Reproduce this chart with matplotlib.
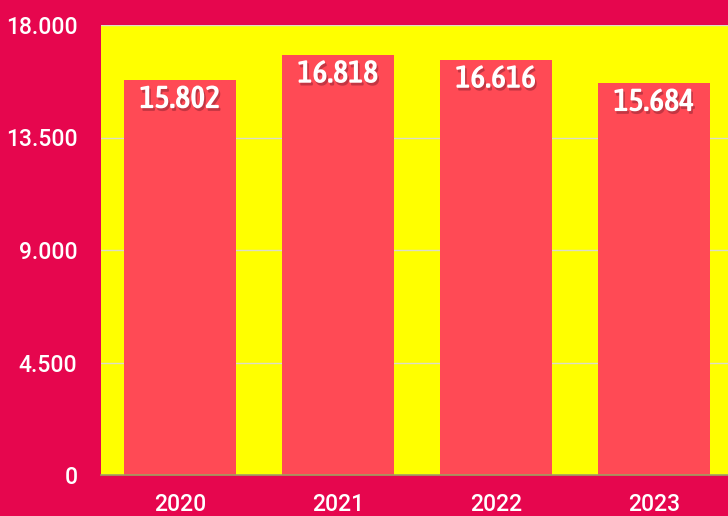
import matplotlib.pyplot as plt
import matplotlib.patheffects as pe
from matplotlib import font_manager

years = ["2020", "2021", "2022", "2023"]
values = [15802, 16818, 16616, 15684]
yticks = [0, 4500, 9000, 13500, 18000]


def fmt(v):
    # thousand separator with a dot
    return f"{v:,}".replace(",", ".")


# condensed bold face for the value labels
label_path = None
for pref in ["AsapCondensed-SemiBold.ttf", "AsapCondensed-Bold.ttf", "DejaVuSansCondensed-Bold.ttf"]:
    for f in font_manager.fontManager.ttflist:
        if f.fname.endswith(pref):
            label_path = f.fname
            break
    if label_path:
        break
if label_path:
    label_fp = font_manager.FontProperties(fname=label_path)
else:
    label_fp = font_manager.FontProperties(family="DejaVu Sans", weight="bold")
label_fp.set_size(23)

bg = "#E6064E"
fig = plt.figure(figsize=(7.28, 5.16), dpi=100, facecolor=bg)
ax = fig.add_axes([101 / 728, 41 / 516, 632 / 728, 450 / 516])
ax.set_facecolor("#FFFF00")

x = range(len(years))
bars = ax.bar(x, values, width=0.71, color="#FF4A55", zorder=2)

ax.set_xlim(-0.5, len(years) - 0.5)
ax.set_ylim(0, 18000)
ax.set_yticks(yticks)
ax.set_yticklabels([fmt(t) for t in yticks])
ax.set_xticks(list(x))
ax.set_xticklabels(years)
ax.grid(axis="y", color="#DCDCC8", linewidth=1, zorder=1)

for s in ["top", "right", "left"]:
    ax.spines[s].set_visible(False)
ax.spines["bottom"].set_color("#A0A060")
ax.spines["bottom"].set_linewidth(1.2)
ax.spines["bottom"].set_zorder(3)

ax.tick_params(axis="both", length=0, colors="white", labelsize=16.5)
ax.tick_params(axis="y", pad=17)
ax.tick_params(axis="x", pad=13)
for lbl in ax.get_xticklabels() + ax.get_yticklabels():
    lbl.set_fontfamily("Roboto")
    lbl.set_fontweight("medium")

for b, v in zip(bars, values):
    ax.annotate(fmt(v), (b.get_x() + b.get_width() / 2, v), xytext=(0, -3),
                textcoords="offset points", ha="center", va="top",
                color="white", fontproperties=label_fp, zorder=4,
                path_effects=[pe.withSimplePatchShadow(offset=(1.2, -2), shadow_rgbFace="#6A1A28", alpha=0.4)])

fig.savefig("out.png", dpi=100, facecolor=bg)
